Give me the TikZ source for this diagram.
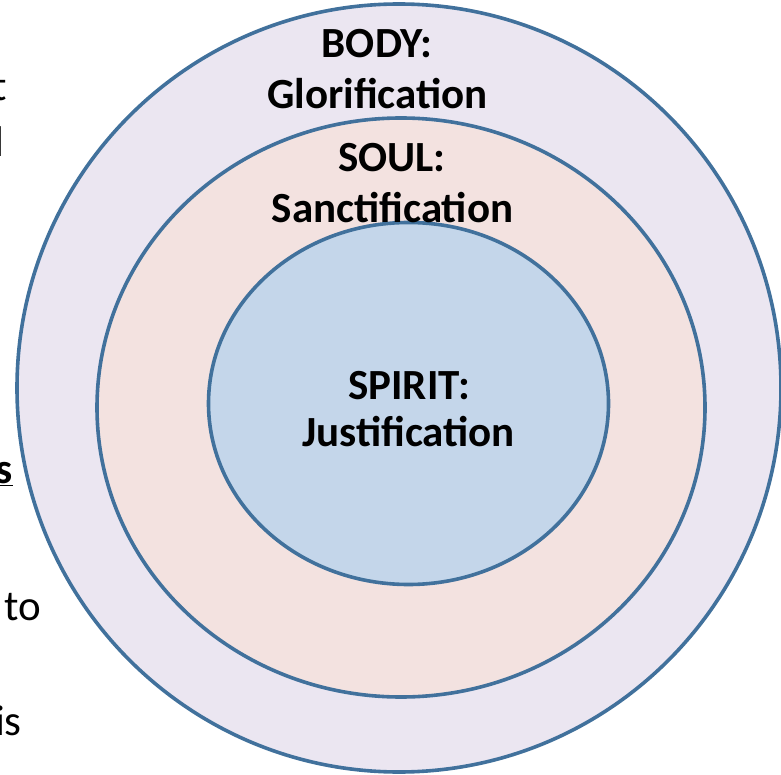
\documentclass[tikz,border=0pt]{standalone}
\usepackage{fontspec}
\setmainfont{Carlito}
\definecolor{ringline}{HTML}{41719C}
\definecolor{outerfill}{HTML}{EBE6F1}
\definecolor{midfill}{HTML}{F3E2E0}
\definecolor{innerfill}{HTML}{C4D6EA}
\tikzset{
  ring/.style={draw=ringline, line width=3.6pt},
  lbl/.style={font=\bfseries\fontsize{43}{50}\selectfont, inner sep=0pt, anchor=base},
  frag/.style={font=\fontsize{43}{50}\selectfont, inner sep=0pt, anchor=base east},
}
\begin{document}
\begin{tikzpicture}[x=1pt,y=-1pt]
\useasboundingbox (0,0) rectangle (781,775);
\clip (0,0) rectangle (781,775);
\fill[white] (0,0) rectangle (781,775);
% left text fragments
\node[frag] (fragt) at (7,101) {t};
\node[frag] (fragl) at (4.6,157) {l};
\node[frag, font=\bfseries\fontsize{43}{50}\selectfont] (frags) at (13,483) {\underline{s}};
\node[frag] (fragto) at (41,620) {to};
\node[frag] (fragis) at (22,735) {is};
% rings
\draw[ring, fill=outerfill] (399,388) ellipse [x radius=382pt, y radius=384pt];
\draw[ring, fill=midfill] (401,407.5) ellipse [x radius=304pt, y radius=289.5pt];
\draw[ring, fill=innerfill] (408.5,403.5) ellipse [x radius=200pt, y radius=181pt];
% labels
\node[lbl] (body1) at (377,58) {BODY:};
\node[lbl] (body2) at (377.5,109) {Glorification};
\node[lbl] (soul1) at (392,172) {SOUL:};
\node[lbl] (soul2) at (392.5,223) {Sanctification};
\node[lbl] (spirit1) at (409,399) {SPIRIT:};
\node[lbl] (spirit2) at (408.5,446) {Justification};
\end{tikzpicture}
\end{document}
